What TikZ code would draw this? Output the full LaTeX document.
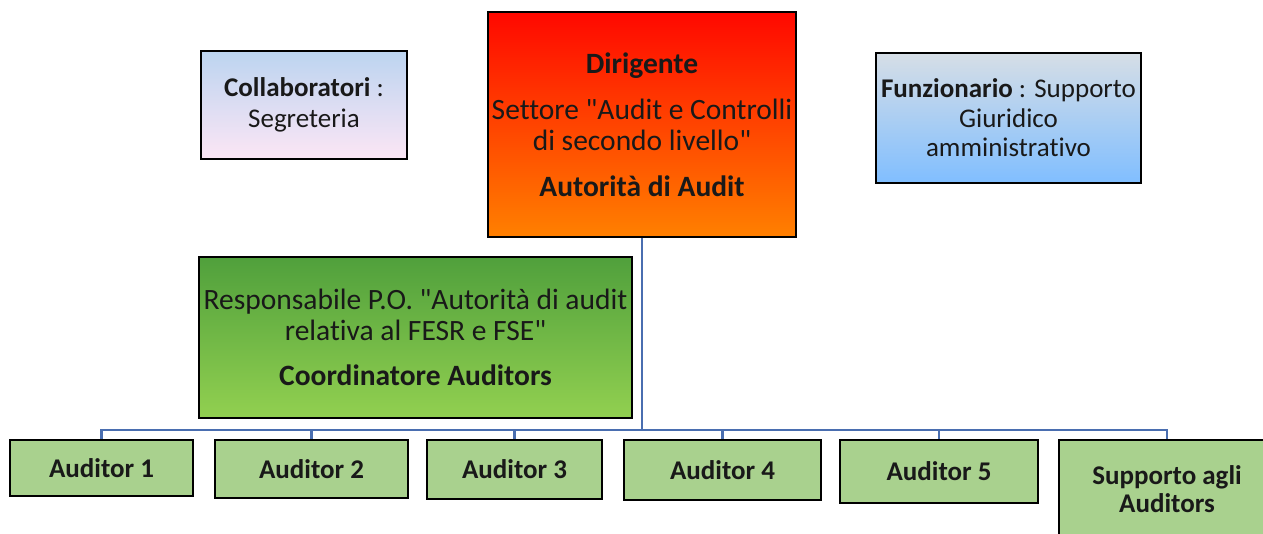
\documentclass[tikz,border=0pt]{standalone}
\usepackage{fontspec}
\setmainfont{Carlito}[Ligatures={NoCommon,TeXOff}]
\begin{document}
\begin{tikzpicture}[x=1pt,y=-1pt,
  box/.style={draw=black,line width=2pt,align=center,inner sep=0pt,text=black!90},
  aud/.style={box,fill=audgreen,font=\fontsize{27}{28}\selectfont\bfseries},
  conn/.style={draw=linkblue,line width=2.3pt}]
\definecolor{audgreen}{HTML}{A9D18E}
\definecolor{linkblue}{HTML}{4A6EB0}
\useasboundingbox (0,0) rectangle (1263,533);
\node[box,minimum width=206,minimum height=108,top color={rgb,255:red,188;green,212;blue,240},bottom color={rgb,255:red,252;green,230;blue,245},
  font=\fontsize{27}{31}\selectfont] (col) at (304,105) {\textbf{Collaboratori} :\\Segreteria};
\node[box,minimum width=308,minimum height=225,top color={rgb,255:red,255;green,8;blue,0},bottom color={rgb,255:red,255;green,128;blue,0},
  font=\fontsize{29.5}{31}\selectfont] (dir) at (642,124.5)
  {\textbf{Dirigente}\\[15pt]Settore "Audit e Controlli\\di secondo livello"\\[15pt]\textbf{Autorità di Audit}};
\node[box,minimum width=265,minimum height=130,top color={rgb,255:red,214;green,222;blue,230},bottom color={rgb,255:red,128;green,190;blue,255},
  font=\fontsize{27}{29.5}\selectfont] (fun) at (1008.5,118)
  {\textbf{Funzionario} : Supporto\\Giuridico\\amministrativo};
\node[box,minimum width=433,minimum height=161,top color={rgb,255:red,80;green,160;blue,60},middle color={rgb,255:red,108;green,196;blue,78},bottom color={rgb,255:red,146;green,208;blue,80},
  font=\fontsize{29.5}{31}\selectfont] (resp) at (415.5,337.5)
  {Responsabile P.O. "Autorità di audit\\relativa al FESR e FSE"\\[14pt]\textbf{Coordinatore Auditors}};
\node[aud,minimum width=183,minimum height=56] (a1) at (101.5,468) {Auditor 1};
\node[aud,minimum width=193,minimum height=58] (a2) at (311.5,469) {Auditor 2};
\node[aud,minimum width=175,minimum height=59] (a3) at (514.5,469.5) {Auditor 3};
\node[aud,minimum width=197,minimum height=60] (a4) at (722.5,470) {Auditor 4};
\node[aud,minimum width=198,minimum height=63] (a5) at (939,471.5) {Auditor 5};
\begin{scope}
\clip (0,0) rectangle (1263,533);
\node[aud,minimum width=216,minimum height=98] (a6) at (1167,489) {Supporto agli\\Auditors};
\end{scope}
\coordinate (bus) at (642,430);
\draw[conn] (dir.south) -- (bus);
\foreach \n in {a1,a2,a3,a4,a5,a6}{
  \draw[conn] (bus) -| (\n.north);
}
\end{tikzpicture}
\end{document}
